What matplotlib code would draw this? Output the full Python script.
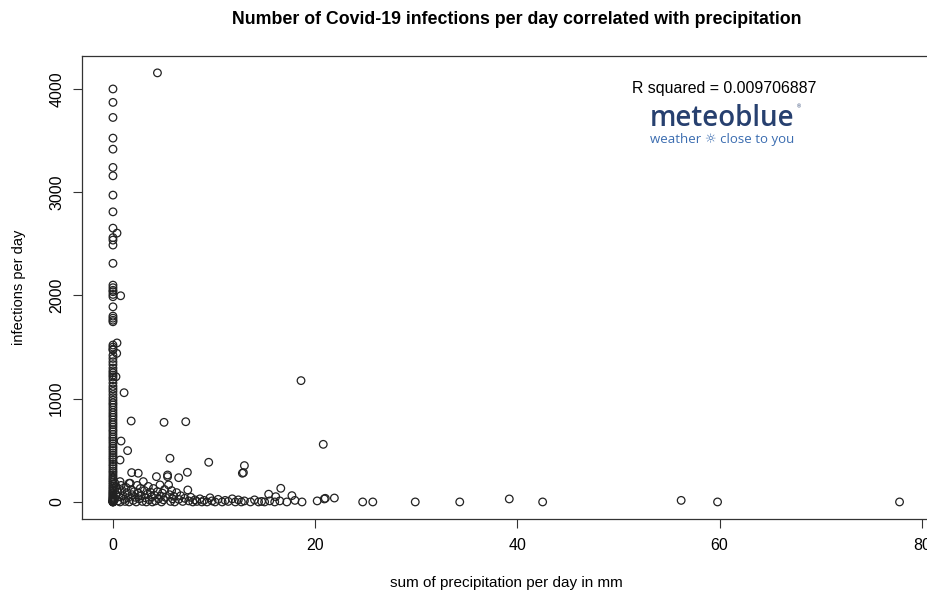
import numpy as np
import matplotlib
matplotlib.use("Agg")
import matplotlib.pyplot as plt

# daily infections on days without any precipitation (x = 0 mm)
dry_day_infections = [
    4000, 3870, 3724, 3524, 3417, 3240, 3159, 2972, 2810, 2652, 2560, 2536,
    2488, 2311, 2100, 2075, 2050, 2036, 2010, 1988, 1890, 1800, 1780, 1760,
    1745, 1520, 1500, 1480, 1471, 1420, 1390, 1358, 1330, 1297, 1270, 1250,
    1229, 1210, 1185, 1152, 1120, 1095, 1070, 1040, 1010, 985, 960, 940,
    915, 890, 865, 842, 820, 795, 770, 748, 725, 700, 680, 655, 630, 610,
    588, 565, 540, 520, 498, 475, 452, 430, 410, 388, 365, 345, 322, 300,
    282, 260, 240, 222, 205, 188, 170, 152, 136, 120, 105, 92, 80, 68, 56,
    45, 36, 28, 20, 14, 8, 4, 2, 0, 0, 0,
]

# days with rain: precipitation sum (mm) and infections
wet_precip = [
    4.4, 0.4, 0.76, 0.37, 0.4, 0.3, 1.1, 1.8, 5.05, 7.2, 0.8, 1.45, 0.7,
    5.64, 9.47, 13.0, 12.9, 1.85, 2.5, 0.7, 1.6, 3.0, 18.6, 20.8,
    0.2, 0.3, 0.4, 0.5, 0.3, 0.6, 0.2, 0.5, 0.8, 0.9, 1.0, 1.1, 1.2, 0.7,
    1.3, 1.4, 1.5, 1.6, 1.7, 1.8, 1.9, 2.0, 2.1, 2.2, 2.3, 2.4, 2.5, 2.6,
    2.7, 2.8, 2.9, 3.1, 3.2, 3.3, 3.4, 3.5, 3.6, 3.7, 3.8, 3.9, 4.0, 4.1,
    4.2, 4.3, 4.4, 4.5, 4.65, 4.7, 4.8, 4.9, 5.0, 5.1, 5.2, 5.4, 5.4, 5.5,
    5.6, 5.7, 5.8, 5.9, 6.0, 6.1, 6.3, 6.5, 6.5, 6.7, 6.9, 7.1, 7.36, 7.4,
    7.5, 7.7, 7.9, 8.1, 8.3, 8.6, 8.8, 9.0, 9.3, 9.6, 9.8, 10.1, 10.4, 10.8,
    11.1, 11.4, 11.8, 12.1, 12.4, 12.7, 12.8, 13.0, 13.6, 14.0, 14.4, 14.7,
    15.0, 15.4, 15.5, 16.0, 16.1, 16.5, 16.6, 17.2, 17.7, 18.0, 18.7, 20.2,
    20.9, 21.0, 21.9, 24.7, 25.7, 29.9, 34.3, 39.2, 42.5, 56.2, 59.8, 77.8,
]
wet_infections = [
    4156, 2604, 1997, 1439, 1540, 1213, 1058, 784, 771, 777, 590, 497, 406,
    423, 384, 352, 284, 284, 278, 197, 181, 197, 1175, 558,
    180, 150, 120, 95, 70, 50, 30, 10, 160, 110, 60, 25, 5, 0,
    140, 90, 40, 0, 181, 120, 70, 15, 100, 45, 0, 160, 85, 30,
    130, 60, 5, 110, 40, 0, 75, 150, 20, 95, 50, 0, 130, 65,
    10, 245, 100, 30, 165, 55, 0, 85, 20, 120, 45, 261, 245, 165,
    70, 5, 110, 30, 55, 0, 90, 235, 25, 60, 5, 35, 287, 116,
    10, 45, 0, 20, 5, 30, 0, 15, 0, 40, 10, 0, 25, 0,
    15, 5, 30, 0, 20, 0, 278, 10, 0, 20, 0, 5,
    0, 75, 10, 0, 51, 10, 132, 0, 61, 15, 0, 10,
    29, 35, 38, 0, 0, 0, 0, 29, 0, 15, 0, 0,
]

r_squared = 0.009706887

precip = np.concatenate([np.zeros(len(dry_day_infections)), wet_precip])
infections = np.concatenate([dry_day_infections, wet_infections])

plt.rcParams['font.family'] = ['Liberation Sans', 'DejaVu Sans']

W, H = 927, 594
fig = plt.figure(figsize=(W / 100, H / 100), dpi=100)

# base-R style axes: 4% padding around the data range
x_pad = 0.04 * (precip.max() - precip.min())
y_pad = 0.04 * (infections.max() - infections.min())
left_px, right_px, top_px, bottom_px = 81.5, 931, 55.7, 519.1
ax_w, ax_h = right_px - left_px, bottom_px - top_px
ax = fig.add_axes([left_px / W, 1 - bottom_px / H, ax_w / W, ax_h / H])
ax.set_xlim(precip.min() - x_pad, precip.max() + x_pad)
ax.set_ylim(infections.min() - y_pad, infections.max() + y_pad)

ax.scatter(precip, infections, s=30, facecolors='none', edgecolors='#222222',
           linewidths=0.9, zorder=3)

ax.set_xticks([0, 20, 40, 60, 80])
ax.set_yticks([0, 1000, 2000, 3000, 4000])
ax.set_yticklabels(['0', '1000', '2000', '3000', '4000'], rotation=90, va='center')
ax.tick_params(direction='out', length=6.5, width=0.8, labelsize=11.5, pad=7,
               color='#333333')
ax.tick_params(axis='y', pad=6)
for sp in ax.spines.values():
    sp.set_linewidth(0.9)
    sp.set_color('#333333')

ax.set_xlabel('sum of precipitation per day in mm', fontsize=11, va='center')
ax.xaxis.set_label_coords(0.5, (bottom_px - 583) / ax_h)
ax.set_ylabel('infections per day', fontsize=10.5, va='center')
ax.yaxis.set_label_coords((19 - left_px) / ax_w, 0.5)

fig.text(517 / W, 1 - 20 / H,
         'Number of Covid-19 infections per day correlated with precipitation',
         ha='center', va='center', fontsize=12.8, fontweight='bold')

fig.text(724 / W, 1 - 88 / H, f'R squared = {r_squared}', ha='center',
         va='center', fontsize=11.4)
fig.text(722 / W, 1 - 118 / H, 'meteoblue', ha='center', va='center',
         fontsize=20, color='#27406f', fontweight='semibold',
         family=['Open Sans', 'DejaVu Sans'])
fig.text(799 / W, 1 - 107 / H, '®', ha='center', va='center', fontsize=4,
         color='#27406f')
fig.text(722 / W, 1 - 140 / H, 'weather \u263c close to you', ha='center',
         va='center', fontsize=9.5, color='#3a6cb0',
         family=['Open Sans', 'DejaVu Sans'])

fig.savefig('out.png', dpi=100)
